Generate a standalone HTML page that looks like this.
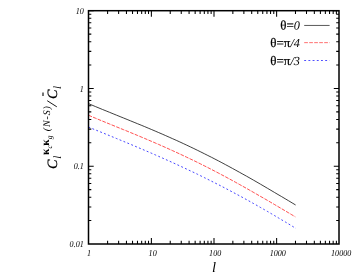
<!DOCTYPE html>
<html><head><meta charset="utf-8"><style>
html,body{margin:0;padding:0;background:#fff}
svg{display:block;will-change:transform}
text{font-family:"Liberation Serif",serif;fill:#000;text-rendering:geometricPrecision}
</style></head><body>
<svg width="354" height="273" viewBox="0 0 354 273">
<rect width="354" height="273" fill="#fff"/>
<path d="M88.5 103.62 L92.0 105.11 L95.5 106.58 L99.0 108.03 L102.5 109.48 L106.1 110.91 L109.6 112.34 L113.1 113.77 L116.6 115.19 L120.1 116.61 L123.6 118.03 L127.1 119.45 L130.6 120.88 L134.1 122.31 L137.6 123.74 L141.2 125.19 L144.7 126.64 L148.2 128.11 L151.7 129.59 L155.2 131.07 L158.7 132.58 L162.2 134.09 L165.7 135.63 L169.2 137.18 L172.7 138.74 L176.3 140.33 L179.8 141.93 L183.3 143.55 L186.8 145.19 L190.3 146.85 L193.8 148.53 L197.3 150.23 L200.8 151.95 L204.3 153.70 L207.8 155.46 L211.4 157.24 L214.9 159.05 L218.4 160.87 L221.9 162.71 L225.4 164.58 L228.9 166.46 L232.4 168.37 L235.9 170.29 L239.4 172.23 L242.9 174.18 L246.5 176.16 L250.0 178.15 L253.5 180.15 L257.0 182.17 L260.5 184.20 L264.0 186.24 L267.5 188.30 L271.0 190.36 L274.5 192.44 L278.0 194.52 L281.6 196.60 L285.1 198.69 L288.6 200.78 L292.1 202.88 L295.6 204.97" fill="none" stroke="#000" stroke-width="0.75"/>
<path d="M88.5 115.26 L92.0 116.74 L95.5 118.21 L99.0 119.66 L102.5 121.11 L106.0 122.55 L109.5 123.98 L113.0 125.41 L116.5 126.84 L120.0 128.27 L123.6 129.71 L127.1 131.14 L130.6 132.58 L134.1 134.03 L137.6 135.48 L141.1 136.95 L144.6 138.42 L148.1 139.90 L151.6 141.40 L155.1 142.90 L158.6 144.42 L162.1 145.96 L165.6 147.51 L169.1 149.08 L172.6 150.66 L176.1 152.26 L179.6 153.88 L183.1 155.52 L186.6 157.17 L190.1 158.85 L193.7 160.54 L197.2 162.25 L200.7 163.99 L204.2 165.74 L207.7 167.51 L211.2 169.30 L214.7 171.11 L218.2 172.94 L221.7 174.79 L225.2 176.65 L228.7 178.54 L232.2 180.44 L235.7 182.36 L239.2 184.30 L242.7 186.25 L246.2 188.22 L249.7 190.20 L253.2 192.20 L256.7 194.21 L260.2 196.23 L263.8 198.26 L267.3 200.30 L270.8 202.35 L274.3 204.40 L277.8 206.47 L281.3 208.53 L284.8 210.60 L288.3 212.67 L291.8 214.75 L295.3 216.82" fill="none" stroke="#f22" stroke-width="0.8" stroke-dasharray="3.7 1.3"/>
<path d="M88.5 127.04 L92.0 128.48 L95.5 129.92 L99.0 131.35 L102.6 132.79 L106.1 134.23 L109.6 135.67 L113.1 137.11 L116.6 138.55 L120.1 140.00 L123.7 141.46 L127.2 142.92 L130.7 144.38 L134.2 145.86 L137.7 147.34 L141.2 148.83 L144.7 150.33 L148.3 151.84 L151.8 153.36 L155.3 154.89 L158.8 156.43 L162.3 157.98 L165.8 159.55 L169.4 161.12 L172.9 162.72 L176.4 164.32 L179.9 165.94 L183.4 167.57 L186.9 169.22 L190.4 170.88 L194.0 172.56 L197.5 174.26 L201.0 175.97 L204.5 177.69 L208.0 179.43 L211.5 181.19 L215.0 182.97 L218.6 184.76 L222.1 186.57 L225.6 188.40 L229.1 190.24 L232.6 192.10 L236.1 193.98 L239.7 195.87 L243.2 197.78 L246.7 199.71 L250.2 201.66 L253.7 203.62 L257.2 205.60 L260.7 207.59 L264.3 209.61 L267.8 211.63 L271.3 213.68 L274.8 215.74 L278.3 217.82 L281.8 219.91 L285.4 222.01 L288.9 224.13 L292.4 226.27 L295.9 228.42" fill="none" stroke="#22f" stroke-width="0.85" stroke-dasharray="1.9 2.3"/>
<rect x="88.5" y="10.7" width="250.5" height="233.3" fill="none" stroke="#000" stroke-width="1.5"/>
<path d="M107.60 244.0v-3.2M107.60 10.7v3.2M118.63 244.0v-3.2M118.63 10.7v3.2M126.45 244.0v-3.2M126.45 10.7v3.2M132.52 244.0v-3.2M132.52 10.7v3.2M137.48 244.0v-3.2M137.48 10.7v3.2M141.67 244.0v-3.2M141.67 10.7v3.2M145.31 244.0v-3.2M145.31 10.7v3.2M148.51 244.0v-3.2M148.51 10.7v3.2M151.38 244.0v-6.0M151.38 10.7v6.0M170.23 244.0v-3.2M170.23 10.7v3.2M181.25 244.0v-3.2M181.25 10.7v3.2M189.08 244.0v-3.2M189.08 10.7v3.2M195.15 244.0v-3.2M195.15 10.7v3.2M200.11 244.0v-3.2M200.11 10.7v3.2M204.30 244.0v-3.2M204.30 10.7v3.2M207.93 244.0v-3.2M207.93 10.7v3.2M211.13 244.0v-3.2M211.13 10.7v3.2M214.00 244.0v-6.0M214.00 10.7v6.0M232.85 244.0v-3.2M232.85 10.7v3.2M243.88 244.0v-3.2M243.88 10.7v3.2M251.70 244.0v-3.2M251.70 10.7v3.2M257.77 244.0v-3.2M257.77 10.7v3.2M262.73 244.0v-3.2M262.73 10.7v3.2M266.92 244.0v-3.2M266.92 10.7v3.2M270.56 244.0v-3.2M270.56 10.7v3.2M273.76 244.0v-3.2M273.76 10.7v3.2M276.62 244.0v-6.0M276.62 10.7v6.0M295.48 244.0v-3.2M295.48 10.7v3.2M306.50 244.0v-3.2M306.50 10.7v3.2M314.33 244.0v-3.2M314.33 10.7v3.2M320.40 244.0v-3.2M320.40 10.7v3.2M325.36 244.0v-3.2M325.36 10.7v3.2M329.55 244.0v-3.2M329.55 10.7v3.2M333.18 244.0v-3.2M333.18 10.7v3.2M336.38 244.0v-3.2M336.38 10.7v3.2M88.5 220.59h2.8M339.0 220.59h-2.8M88.5 206.90h2.8M339.0 206.90h-2.8M88.5 197.18h2.8M339.0 197.18h-2.8M88.5 189.64h2.8M339.0 189.64h-2.8M88.5 183.49h2.8M339.0 183.49h-2.8M88.5 178.28h2.8M339.0 178.28h-2.8M88.5 173.77h2.8M339.0 173.77h-2.8M88.5 169.79h2.8M339.0 169.79h-2.8M88.5 166.23h5.2M339.0 166.23h-5.2M88.5 142.82h2.8M339.0 142.82h-2.8M88.5 129.13h2.8M339.0 129.13h-2.8M88.5 119.41h2.8M339.0 119.41h-2.8M88.5 111.88h2.8M339.0 111.88h-2.8M88.5 105.72h2.8M339.0 105.72h-2.8M88.5 100.51h2.8M339.0 100.51h-2.8M88.5 96.00h2.8M339.0 96.00h-2.8M88.5 92.03h2.8M339.0 92.03h-2.8M88.5 88.47h5.2M339.0 88.47h-5.2M88.5 65.06h2.8M339.0 65.06h-2.8M88.5 51.36h2.8M339.0 51.36h-2.8M88.5 41.65h2.8M339.0 41.65h-2.8M88.5 34.11h2.8M339.0 34.11h-2.8M88.5 27.95h2.8M339.0 27.95h-2.8M88.5 22.75h2.8M339.0 22.75h-2.8M88.5 18.24h2.8M339.0 18.24h-2.8M88.5 14.26h2.8M339.0 14.26h-2.8M88.5 10.70h5.2M339.0 10.70h-5.2" stroke="#000" stroke-width="1.05" fill="none"/>
<g font-size="9.2" font-style="italic" transform="rotate(0.02 200 140)"><text transform="translate(89.1 256.2) scale(0.88 1)" text-anchor="middle">1</text><text transform="translate(152.7 256.2) scale(0.88 1)" text-anchor="middle">10</text><text transform="translate(215.2 256.2) scale(0.88 1)" text-anchor="middle">100</text><text transform="translate(277.8 256.2) scale(0.88 1)" text-anchor="middle">1000</text><text transform="translate(341.2 256.2) scale(0.88 1)" text-anchor="middle">10000</text><text transform="translate(83.8 13.8) scale(0.88 1)" text-anchor="end">10</text><text transform="translate(83.8 91.6) scale(0.88 1)" text-anchor="end">1</text><text transform="translate(83.8 169.3) scale(0.88 1)" text-anchor="end">0.1</text><text transform="translate(83.8 247.1) scale(0.88 1)" text-anchor="end">0.01</text></g>
<text x="213.9" y="272" font-size="14.5" font-style="italic" text-anchor="middle">l</text>
<g font-size="13" transform="rotate(0.03 300 46)">
<text x="300" y="29.6" text-anchor="end" stroke="#000" stroke-width="0.2">θ=<tspan font-style="italic" stroke="none" font-size="12.3">0</tspan></text>
<text x="300" y="47.1" text-anchor="end" stroke="#000" stroke-width="0.2">θ=π<tspan font-style="italic" stroke="none" font-size="12.3">/4</tspan></text>
<text x="300" y="64.9" text-anchor="end" stroke="#000" stroke-width="0.2">θ=π<tspan font-style="italic" stroke="none" font-size="12.3">/3</tspan></text>
</g>
<path d="M304.2 25.45H329.6" stroke="#000" stroke-width="0.65"/>
<path d="M304.2 42.65H329.6" stroke="#f22" stroke-width="0.65" stroke-dasharray="3.7 1.3"/>
<path d="M304.2 60.5H329.6" stroke="#22f" stroke-width="0.8" stroke-dasharray="1.9 2.3"/>
<g transform="translate(57.3 169.5) rotate(-90)" font-style="italic">
<text x="0.6" y="0" font-size="14.2" stroke="#000" stroke-width="0.25">C</text>
<text x="10.8" y="3.8" font-size="11.2">l</text>
<text x="14.6" y="-7.9" font-size="11.5" font-style="normal" font-weight="bold">κ</text>
<text x="20.9" y="-5.4" font-size="7.5">c</text>
<text x="23.8" y="-7.9" font-size="11.5" font-style="normal" font-weight="bold">κ</text>
<text x="30.2" y="-5.4" font-size="7.5">g</text>
<text x="38.2" y="-7" font-size="10" letter-spacing="0.9">(N-S)</text>
<path d="M62.7 -0.5L68.8 -10.1" stroke="#000" stroke-width="0.9"/>
<text x="70.6" y="0" font-size="14.2" stroke="#000" stroke-width="0.25">C</text>
<text x="80.4" y="3.8" font-size="11.2">l</text>
<path d="M73.6 -14.3h3.4" stroke="#000" stroke-width="1.1"/>
</g>
</svg>
</body></html>
